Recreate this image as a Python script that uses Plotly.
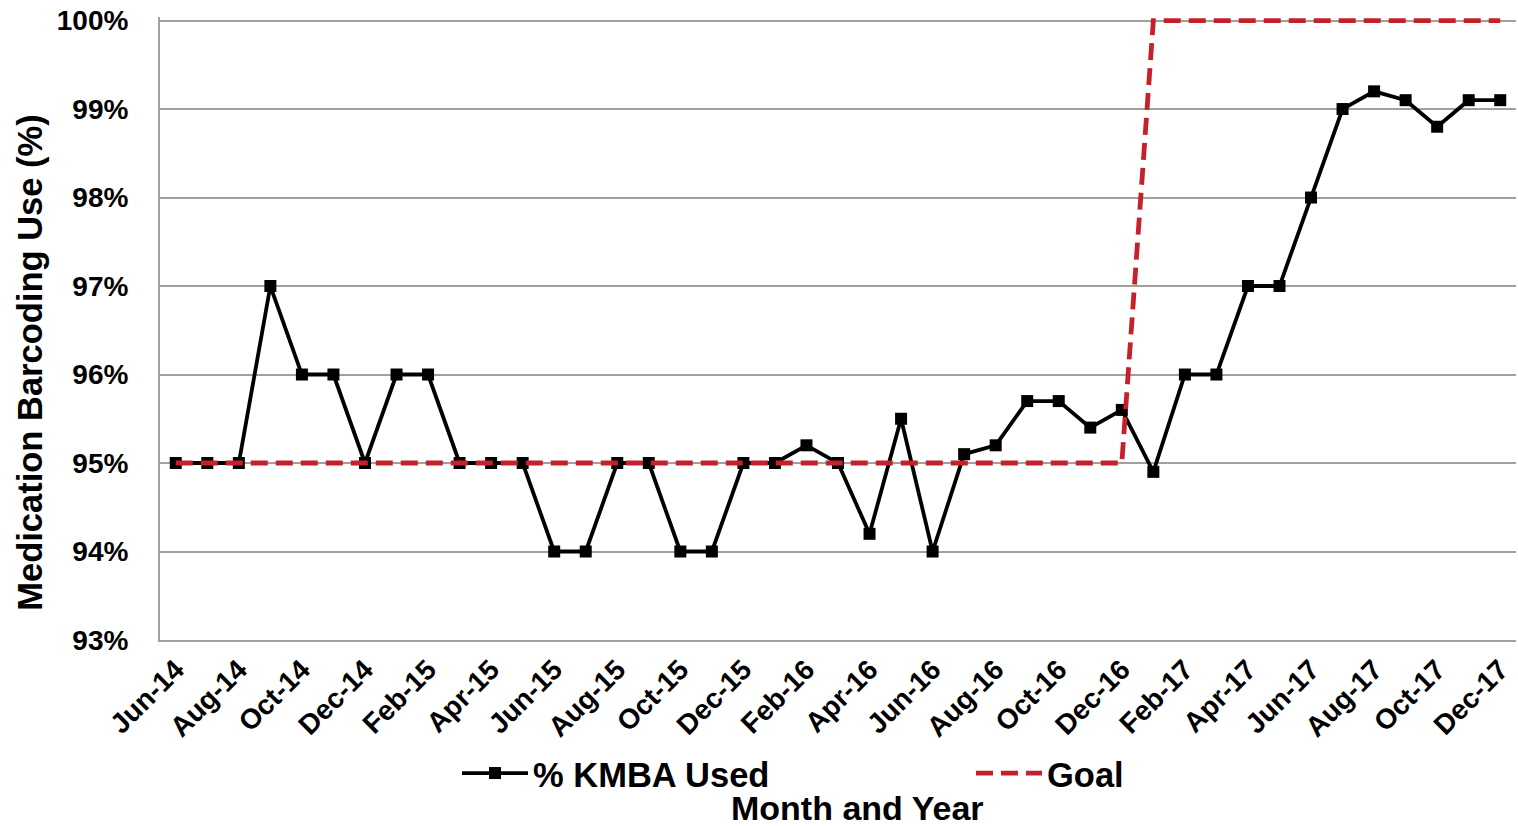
import plotly.graph_objects as go

months = [
    "Jun-14", "Jul-14", "Aug-14", "Sep-14", "Oct-14", "Nov-14", "Dec-14",
    "Jan-15", "Feb-15", "Mar-15", "Apr-15", "May-15", "Jun-15", "Jul-15",
    "Aug-15", "Sep-15", "Oct-15", "Nov-15", "Dec-15",
    "Jan-16", "Feb-16", "Mar-16", "Apr-16", "May-16", "Jun-16", "Jul-16",
    "Aug-16", "Sep-16", "Oct-16", "Nov-16", "Dec-16",
    "Jan-17", "Feb-17", "Mar-17", "Apr-17", "May-17", "Jun-17", "Jul-17",
    "Aug-17", "Sep-17", "Oct-17", "Nov-17", "Dec-17",
]

kmba_used = [
    95, 95, 95, 97, 96, 96, 95,
    96, 96, 95, 95, 95, 94, 94,
    95, 95, 94, 94, 95,
    95, 95.2, 95, 94.2, 95.5, 94, 95.1,
    95.2, 95.7, 95.7, 95.4, 95.6,
    94.9, 96, 96, 97, 97, 98, 99,
    99.2, 99.1, 98.8, 99.1, 99.1,
]

goal = [95] * 31 + [100] * 12

tick_labels = months[::2]
y_ticks = [93, 94, 95, 96, 97, 98, 99, 100]

FONT = "Liberation Sans, Arial, sans-serif"
RED = "#C4212B"

fig = go.Figure()
fig.add_trace(go.Scatter(
    x=months, y=kmba_used, name="% KMBA Used", mode="lines+markers",
    line=dict(color="black", width=3.8),
    marker=dict(symbol="square", size=12, color="black"),
    legend="legend", showlegend=True,
))
fig.add_trace(go.Scatter(
    x=months, y=goal, name="Goal", mode="lines",
    line=dict(color=RED, width=4.8, dash="17px,8px"),
    legend="legend2", showlegend=True,
))

plot_top = 17.5
plot_bottom = 640
ph = plot_bottom - plot_top
pw = 1356

fig.update_layout(
    width=1518, height=826,
    margin=dict(l=160, r=2, t=17, b=186, autoexpand=False),
    paper_bgcolor="white", plot_bgcolor="white",
    font=dict(family=FONT, color="black"),
    xaxis=dict(
        type="category", range=[-0.5, len(months) - 0.5],
        tickmode="array", tickvals=tick_labels, ticktext=tick_labels,
        tickangle=-45, tickfont=dict(size=28, weight="bold", color="black"),
        showgrid=False, showline=True, linecolor="#A0A0A0", linewidth=2,
        ticks="", ticklabelstandoff=0,
    ),
    yaxis=dict(
        range=[93, 100.04], tickmode="array", tickvals=y_ticks,
        ticktext=[f"{v}%" for v in y_ticks],
        tickfont=dict(size=28, weight="bold", color="black"),
        showgrid=True, gridcolor="#A0A0A0", gridwidth=2,
        showline=True, linecolor="#A0A0A0", linewidth=2,
        zeroline=False, ticks="", ticklabelstandoff=24,
    ),
    legend=dict(
        orientation="h", x=(457 - 160) / pw, xanchor="left",
        y=-(773 - plot_bottom) / ph, yanchor="middle",
        font=dict(size=34.5, weight="bold", color="black"),
        itemwidth=66, bgcolor="rgba(0,0,0,0)",
    ),
    legend2=dict(
        orientation="h", x=(971 - 160) / pw, xanchor="left",
        y=-(773 - plot_bottom) / ph, yanchor="middle",
        font=dict(size=34.5, weight="bold", color="black"),
        itemwidth=66, bgcolor="rgba(0,0,0,0)",
    ),
    annotations=[
        dict(text="Month and Year", xref="paper", yref="paper",
             x=(857 - 160) / pw, y=-(808 - plot_bottom) / ph,
             xanchor="center", yanchor="middle", showarrow=False,
             font=dict(size=34, weight="bold", color="black")),
        dict(text="Medication Barcoding Use (%)", xref="paper", yref="paper",
             x=(30 - 160) / pw, y=(plot_bottom - 363) / ph, textangle=-90,
             xanchor="center", yanchor="middle", showarrow=False,
             font=dict(size=34.5, weight="bold", color="black")),
    ],
)

fig.write_html(
    "out.html",
    config={"displayModeBar": False},
    post_script="document.body.style.margin='0';document.body.style.overflow='hidden';",
)
